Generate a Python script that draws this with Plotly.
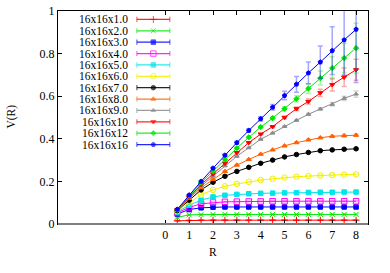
import plotly.graph_objects as go

# ---------------- data ----------------
R = [0.5, 1.0, 1.5, 2.0, 2.5, 3.0, 3.5, 4.0, 4.5, 5.0, 5.5, 6.0, 6.5, 7.0, 7.5, 8.0]

labels = ["16x16x1.0", "16x16x2.0", "16x16x3.0", "16x16x4.0", "16x16x5.0", "16x16x6.0",
          "16x16x7.0", "16x16x8.0", "16x16x9.0", "16x16x10", "16x16x12", "16x16x16"]

V_1 = [0.015, 0.017, 0.018, 0.018, 0.018, 0.018, 0.018, 0.018, 0.018, 0.018, 0.018, 0.018, 0.018, 0.018, 0.018, 0.018]
V_2 = [0.031, 0.043, 0.044, 0.045, 0.045, 0.045, 0.045, 0.045, 0.045, 0.045, 0.045, 0.045, 0.045, 0.045, 0.045, 0.045]
V_3 = [0.047, 0.068, 0.076, 0.079, 0.080, 0.080, 0.080, 0.080, 0.080, 0.080, 0.080, 0.080, 0.080, 0.080, 0.080, 0.080]
V_4 = [0.052, 0.078, 0.095, 0.101, 0.104, 0.105, 0.106, 0.106, 0.107, 0.107, 0.107, 0.107, 0.107, 0.107, 0.107, 0.107]
V_5 = [0.056, 0.088, 0.112, 0.127, 0.135, 0.139, 0.142, 0.144, 0.145, 0.146, 0.147, 0.148, 0.149, 0.149, 0.150, 0.150]
V_6 = [0.060, 0.100, 0.138, 0.160, 0.177, 0.188, 0.198, 0.206, 0.212, 0.218, 0.222, 0.225, 0.228, 0.230, 0.232, 0.233]
V_7 = [0.063, 0.112, 0.160, 0.196, 0.224, 0.247, 0.266, 0.285, 0.300, 0.315, 0.326, 0.336, 0.344, 0.348, 0.351, 0.353]
V_8 = [0.064, 0.120, 0.170, 0.210, 0.247, 0.277, 0.303, 0.328, 0.348, 0.367, 0.382, 0.395, 0.405, 0.412, 0.415, 0.417]
V_9 = [0.065, 0.121, 0.177, 0.225, 0.273, 0.318, 0.358, 0.398, 0.427, 0.458, 0.487, 0.515, 0.540, 0.562, 0.590, 0.610]
V_10 = [0.066, 0.126, 0.185, 0.235, 0.285, 0.335, 0.382, 0.422, 0.457, 0.500, 0.541, 0.575, 0.616, 0.654, 0.689, 0.724]
V_12 = [0.067, 0.133, 0.194, 0.248, 0.303, 0.356, 0.407, 0.455, 0.497, 0.541, 0.588, 0.636, 0.685, 0.732, 0.779, 0.826]
V_16 = [0.069, 0.136, 0.200, 0.262, 0.323, 0.382, 0.439, 0.494, 0.548, 0.603, 0.656, 0.709, 0.760, 0.814, 0.864, 0.914]

E_1 = [0.002, 0.002, 0.002, 0.002, 0.002, 0.002, 0.002, 0.002, 0.002, 0.002, 0.002, 0.002, 0.002, 0.002, 0.002, 0.002]
E_2 = [0.002, 0.002, 0.002, 0.002, 0.002, 0.002, 0.002, 0.002, 0.002, 0.002, 0.002, 0.002, 0.002, 0.002, 0.002, 0.002]
E_3 = [0.002, 0.002, 0.002, 0.002, 0.002, 0.002, 0.002, 0.002, 0.002, 0.002, 0.002, 0.002, 0.002, 0.002, 0.002, 0.002]
E_4 = [0.002, 0.002, 0.002, 0.002, 0.002, 0.002, 0.002, 0.002, 0.002, 0.002, 0.002, 0.002, 0.002, 0.002, 0.002, 0.002]
E_5 = [0.002, 0.002, 0.002, 0.002, 0.002, 0.002, 0.002, 0.002, 0.002, 0.002, 0.002, 0.002, 0.002, 0.002, 0.003, 0.003]
E_6 = [0.002, 0.002, 0.002, 0.002, 0.002, 0.002, 0.002, 0.002, 0.002, 0.002, 0.002, 0.002, 0.003, 0.003, 0.003, 0.003]
E_7 = [0.002, 0.002, 0.002, 0.002, 0.002, 0.002, 0.002, 0.002, 0.002, 0.002, 0.002, 0.003, 0.003, 0.003, 0.003, 0.004]
E_8 = [0.002, 0.002, 0.002, 0.002, 0.002, 0.002, 0.002, 0.002, 0.002, 0.003, 0.003, 0.003, 0.004, 0.004, 0.005, 0.005]
E_9 = [0.002, 0.002, 0.002, 0.002, 0.002, 0.002, 0.002, 0.003, 0.003, 0.003, 0.004, 0.005, 0.006, 0.008, 0.010, 0.015]
E_10 = [0.001, 0.001, 0.002, 0.002, 0.002, 0.002, 0.003, 0.003, 0.004, 0.006, 0.008, 0.012, 0.017, 0.030, 0.043, 0.049]
E_12 = [0.001, 0.001, 0.001, 0.002, 0.003, 0.004, 0.005, 0.006, 0.008, 0.010, 0.014, 0.023, 0.033, 0.053, 0.068, 0.117]
E_16 = [0.001, 0.001, 0.002, 0.003, 0.004, 0.006, 0.008, 0.010, 0.013, 0.020, 0.037, 0.051, 0.076, 0.112, 0.164, 0.250]

x_ticks = [0, 1, 2, 3, 4, 5, 6, 7, 8]
y_ticks = [0, 0.2, 0.4, 0.6, 0.8, 1.0]

# ---------------- styles ----------------
values = [V_1, V_2, V_3, V_4, V_5, V_6, V_7, V_8, V_9, V_10, V_12, V_16]
errors = [E_1, E_2, E_3, E_4, E_5, E_6, E_7, E_8, E_9, E_10, E_12, E_16]
colors = [(255, 0, 0), (0, 230, 0), (0, 0, 255), (255, 0, 255), (0, 230, 230), (240, 240, 0),
          (0, 0, 0), (255, 96, 0), (140, 140, 140), (255, 0, 0), (0, 230, 0), (0, 0, 255)]
symbols = ["cross-thin-open", "x-thin-open", "square", "square-open", "square", "circle-open",
           "circle", "triangle-up", "triangle-up", "triangle-down", "diamond", "pentagon"]
sizes = [5, 5, 4.5, 5.5, 4.5, 5.5, 4.5, 4.5, 4, 4.5, 4, 4.5]

FONT = "Liberation Serif, Times New Roman, serif"

def rgb(c, a=1.0):
    return "rgba(%d,%d,%d,%.2f)" % (c[0], c[1], c[2], a)

fig = go.Figure()

for v, e, c, s, sz in zip(values, errors, colors, symbols, sizes):
    fig.add_trace(go.Scatter(
        x=R, y=v, mode="lines+markers",
        line=dict(color=rgb(c), width=1),
        marker=dict(symbol=s, size=sz, color=rgb(c), line=dict(color=rgb(c), width=1)),
        error_y=dict(type="data", array=e, visible=True, color=rgb(c, 0.35), thickness=1.5, width=2.5),
        showlegend=False, hoverinfo="skip", cliponaxis=True,
    ))

# ---------------- custom key (gnuplot style: text right, sample left) ----------------
PLOT_L, PLOT_R, PLOT_T, PLOT_B = 58, 368.5, 4, 224
pw, ph = PLOT_R - PLOT_L, PLOT_B - PLOT_T
key_text_x = (130 - PLOT_L) / pw
key_x0 = (137 - PLOT_L) / pw
key_x1 = (170 - PLOT_L) / pw
key_xm = (key_x0 + key_x1) / 2
row0, row_step = 12.7, 11.75

for i, (lab, c, s, sz) in enumerate(zip(labels, colors, symbols, sizes)):
    yy = (PLOT_B - (row0 + row_step * i)) / ph
    fig.add_trace(go.Scatter(
        x=[key_x0, key_xm, key_x1], y=[yy, yy, yy], xaxis="x2", yaxis="y2",
        mode="lines+markers",
        line=dict(color=rgb(c, 0.85), width=1.2),
        marker=dict(symbol=s, size=[0, sz, 0], color=rgb(c), line=dict(color=rgb(c), width=1)),
        error_y=dict(type="data", array=[0.012, 0, 0.012], visible=True, color=rgb(c, 0.6), thickness=1.2, width=0),
        showlegend=False, hoverinfo="skip",
    ))
    fig.add_annotation(x=key_text_x, y=yy, xref="x2", yref="y2", text=lab, showarrow=False,
                       xanchor="right", yanchor="middle", font=dict(family=FONT, size=11.5, color="black"))

# axis titles
fig.add_annotation(x=0.5, y=(PLOT_B - 253) / ph, xref="paper", yref="paper", text="R", showarrow=False,
                   xanchor="center", yanchor="middle", font=dict(family=FONT, size=11.5, color="black"))
fig.add_annotation(x=(11 - PLOT_L) / pw, y=0.505, xref="paper", yref="paper", text="V(R)", showarrow=False,
                   textangle=-90, xanchor="center", yanchor="middle", font=dict(family=FONT, size=11.5, color="black"))

# gray zero line along the bottom
fig.add_shape(type="line", xref="paper", yref="paper", x0=0, x1=1, y0=0, y1=0,
              line=dict(color="#808080", width=2), layer="above")

fig.update_layout(
    width=390, height=273,
    margin=dict(l=PLOT_L, r=390 - PLOT_R, t=PLOT_T, b=273 - PLOT_B),
    paper_bgcolor="white", plot_bgcolor="white",
    font=dict(family=FONT, size=12, color="black"),
    xaxis=dict(range=[-4.5, 8.5], tickvals=x_ticks, ticks="inside", ticklen=4, tickcolor="black",
               showline=True, linecolor="black", linewidth=1, mirror="ticks",
               showgrid=False, zeroline=False, tickfont=dict(family=FONT, size=12),
               ticklabeloverflow="allow"),
    yaxis=dict(range=[0, 1], tickvals=y_ticks, ticks="inside", ticklen=4, tickcolor="black",
               showline=True, linecolor="black", linewidth=1, mirror="ticks",
               showgrid=False, zeroline=False, tickfont=dict(family=FONT, size=12),
               ticklabeloverflow="allow"),
    xaxis2=dict(range=[0, 1], overlaying="x", anchor="y2", visible=False, fixedrange=True),
    yaxis2=dict(range=[0, 1], overlaying="y", anchor="x2", visible=False, fixedrange=True),
)

fig.write_html("out.html", config={"displayModeBar": False, "staticPlot": True},
               post_script="document.body.style.margin='0px';document.body.style.overflow='hidden';")
